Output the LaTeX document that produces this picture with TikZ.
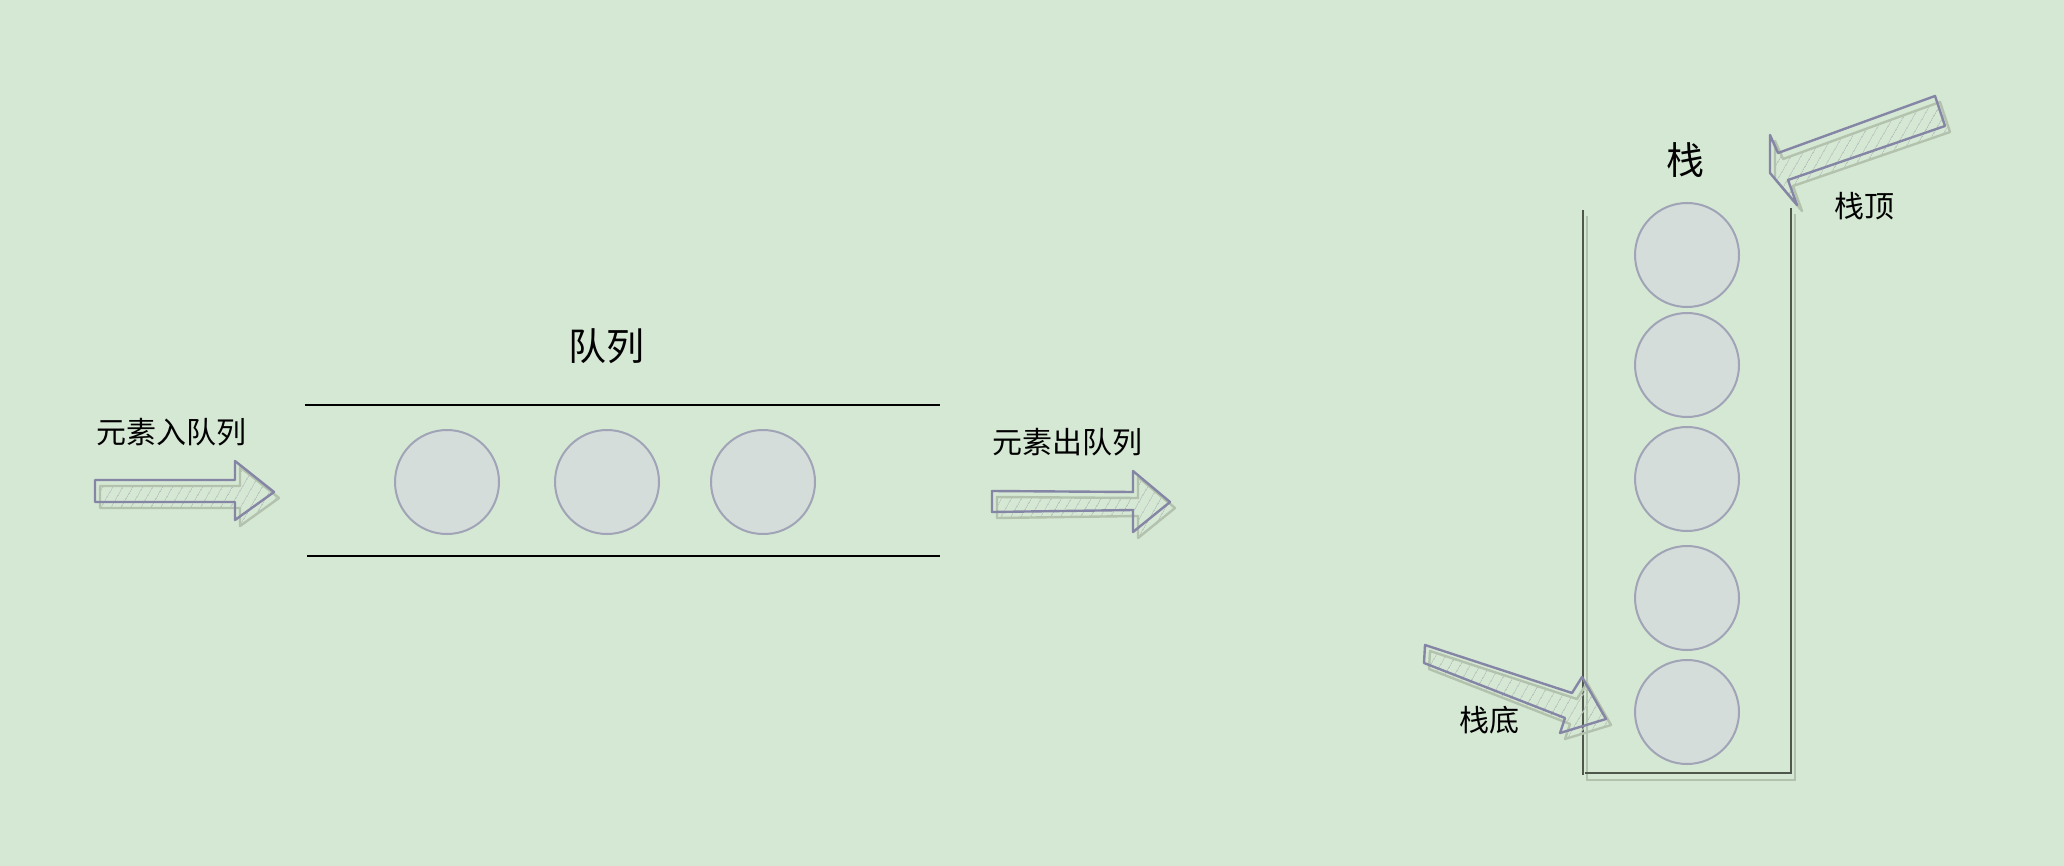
\documentclass[tikz,border=0pt]{standalone}
\usepackage{fontspec}
\setmainfont{Noto Sans CJK SC}
\usetikzlibrary{patterns.meta}

\definecolor{bgGreen}{HTML}{D5E8D4}
\definecolor{arrowLine}{HTML}{8585A6}
\definecolor{shadowLine}{HTML}{B2C2AC}
\definecolor{hatchGrey}{HTML}{B4BFB6}
\definecolor{ballFill}{HTML}{D4DDD9}
\definecolor{ballLine}{HTML}{A0A4B6}
\definecolor{wallLine}{HTML}{4F564C}

% hand drawn block arrow: hatched shadow first, outline on top
\newcommand{\sketcharrow}[1]{%
  \draw[arrowshadow, shift={(5,6)}] #1 -- cycle;
  \draw[arrowbody] #1 -- cycle;
}

\begin{document}
\begin{tikzpicture}[x=0.5pt, y=-0.5pt,
    ball/.style={circle, draw=ballLine, fill=ballFill, line width=1pt,
      minimum size=52pt, inner sep=0pt},
    title/.style={font=\fontsize{19}{19}\selectfont},
    label/.style={font=\fontsize{15}{15}\selectfont},
    arrowbody/.style={draw=arrowLine, line width=1.2pt, line join=round},
    arrowshadow/.style={draw=shadowLine, line width=1.2pt, line join=round,
      pattern={Lines[angle=60, distance=4pt, line width=0.5pt]},
      pattern color=hatchGrey},
    wall/.style={draw=wallLine, line width=1pt},
    wallshadow/.style={draw=shadowLine, line width=1.2pt}]
    % Background
    \fill[bgGreen] (0,0) rectangle (2064,866);

    % Queue
    \node[title] (queueTitle) at (606,346) {队列};
    \draw[line width=1pt] (305,405) -- (940,405);
    \draw[line width=1pt] (307,556) -- (940,556);
    \node[ball] (q1) at (447,482) {};
    \node[ball] (q2) at (607,482) {};
    \node[ball] (q3) at (763,482) {};

    % Enqueue / dequeue
    \node[label] (enqLabel) at (171,432) {元素入队列};
    \sketcharrow{(95,480) -- (235,480) -- (235,461) -- (274,492) -- (235,520) -- (235,502) -- (95,502)}
    \node[label] (deqLabel) at (1067,442) {元素出队列};
    \sketcharrow{(992,491) -- (1133,492) -- (1133,471) -- (1170,502) -- (1133,532) -- (1133,510) -- (992,512)}

    % Stack walls
    \draw[wallshadow] (1587,216) -- (1587,780) -- (1795,780) -- (1795,214);
    \draw[wall] (1583,210) -- (1583,775);
    \draw[wall] (1585,773) -- (1791,773) -- (1791,208);

    % Stack
    \node[title] (stackTitle) at (1685,160) {栈};
    \foreach \y [count=\i] in {255,365,479,598,712} {
        \node[ball] (s\i) at (1687,\y) {};
    }

    % Top and bottom
    \node[label] (topLabel) at (1864,206) {栈顶};
    \sketcharrow{(1935,96) -- (1945,126) -- (1788,180) -- (1797,205) -- (1770,173) -- (1770,135) -- (1778,153)}
    \node[label] (bottomLabel) at (1489,720) {栈底};
    \sketcharrow{(1425,645) -- (1572,693) -- (1582,677) -- (1606,719) -- (1560,733) -- (1565,718) -- (1424,663)}
\end{tikzpicture}
\end{document}
